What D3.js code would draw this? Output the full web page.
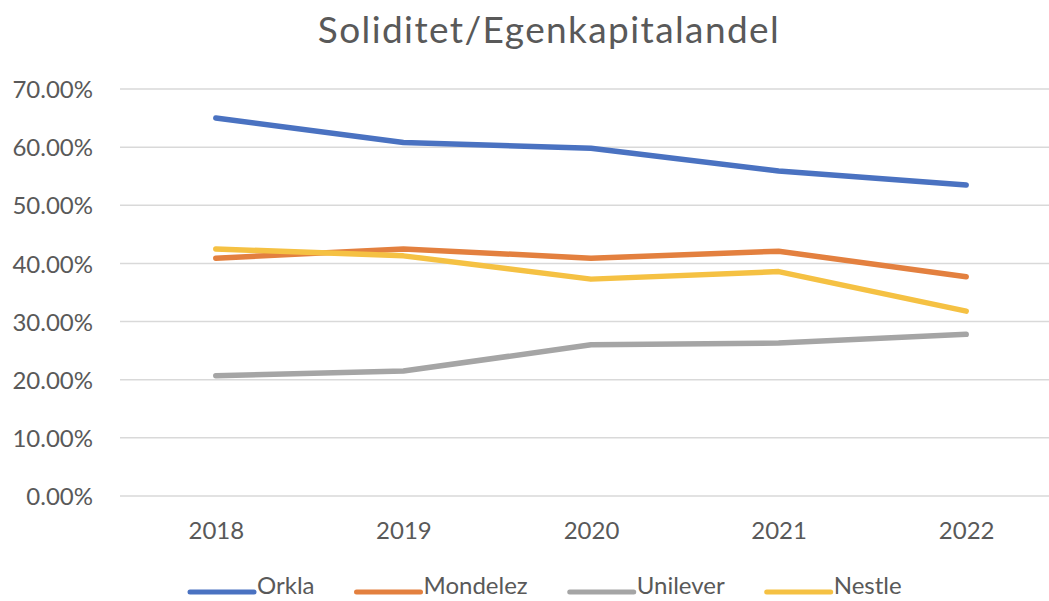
<!DOCTYPE html>
<html>
<head>
<meta charset="utf-8">
<script src="https://cdn.jsdelivr.net/npm/d3@7"></script>
<style>
  body { margin: 0; background: #fff; }
  text { font-family: Lato, "Open Sans", sans-serif; fill: #595959; }
</style>
</head>
<body>
<div id="chart-area"></div>
<script>
var width = 1049,
    height = 601;

var years = ["2018", "2019", "2020", "2021", "2022"];
var seriesNames = ["Orkla", "Mondelez", "Unilever", "Nestle"];
var colors = ["#4A72C1", "#E3803F", "#A5A5A5", "#F5C143"];
var orkla = [0.650, 0.608, 0.598, 0.559, 0.535];
var mondelez = [0.409, 0.425, 0.409, 0.421, 0.377];
var unilever = [0.207, 0.215, 0.260, 0.263, 0.278];
var nestle = [0.425, 0.413, 0.373, 0.386, 0.318];
var yTicks = [0, 0.1, 0.2, 0.3, 0.4, 0.5, 0.6, 0.7];

var allSeries = [orkla, mondelez, unilever, nestle];

var svg = d3.select("#chart-area").append("svg")
    .attr("width", width)
    .attr("height", height);

var x = d3.scalePoint()
    .domain(years)
    .range([122, 1060])
    .padding(0.5);

var y = d3.scaleLinear()
    .domain([0, 0.7])
    .range([496, 89]);

// title
svg.append("text")
    .attr("x", 549)
    .attr("y", 43)
    .attr("text-anchor", "middle")
    .style("font-size", "37px")
    .style("letter-spacing", "1.4px")
    .text("Soliditet/Egenkapitalandel");

// gridlines
svg.append("g")
    .selectAll("line")
    .data(yTicks)
    .enter()
    .append("line")
    .attr("x1", 120)
    .attr("x2", width)
    .attr("y1", function(d) { return y(d); })
    .attr("y2", function(d) { return y(d); })
    .attr("stroke", "#d9d9d9")
    .attr("stroke-width", 1.5);

// y axis labels
var yAxis = d3.axisLeft(y)
    .tickValues(yTicks)
    .tickSize(0)
    .tickPadding(0)
    .tickFormat(function(d) { return (d * 100).toFixed(2) + "%"; });

var yg = svg.append("g")
    .attr("transform", "translate(93,0)")
    .call(yAxis);
yg.select(".domain").remove();
yg.selectAll("text")
    .style("font-size", "24px")
    .attr("fill", "#595959")
    .attr("dy", "0.36em");

// x axis labels
var xAxis = d3.axisBottom(x).tickSize(0).tickPadding(0);
var xg = svg.append("g")
    .attr("transform", "translate(0,539)")
    .call(xAxis);
xg.select(".domain").remove();
xg.selectAll("text")
    .style("font-size", "24px")
    .attr("fill", "#595959")
    .attr("y", 0)
    .attr("dy", 0);

// lines
var line = d3.line()
    .x(function(d, i) { return x(years[i]); })
    .y(function(d) { return y(d); });

svg.append("g")
    .selectAll("path")
    .data(allSeries)
    .enter()
    .append("path")
    .attr("d", line)
    .attr("fill", "none")
    .attr("stroke", function(d, i) { return colors[i]; })
    .attr("stroke-width", 5.5)
    .attr("stroke-linecap", "round")
    .attr("stroke-linejoin", "round");

// legend
var lx = 190;
var legendY = 592;
seriesNames.forEach(function(name, i) {
    svg.append("line")
        .attr("x1", lx)
        .attr("x2", lx + 64)
        .attr("y1", legendY)
        .attr("y2", legendY)
        .attr("stroke", colors[i])
        .attr("stroke-width", 5)
        .attr("stroke-linecap", "round");
    var t = svg.append("text")
        .attr("x", lx + 67)
        .attr("y", 594)
        .style("font-size", "24px")
        .text(name);
    lx += 67 + t.node().getComputedTextLength() + 42;
});
</script>
</body>
</html>
